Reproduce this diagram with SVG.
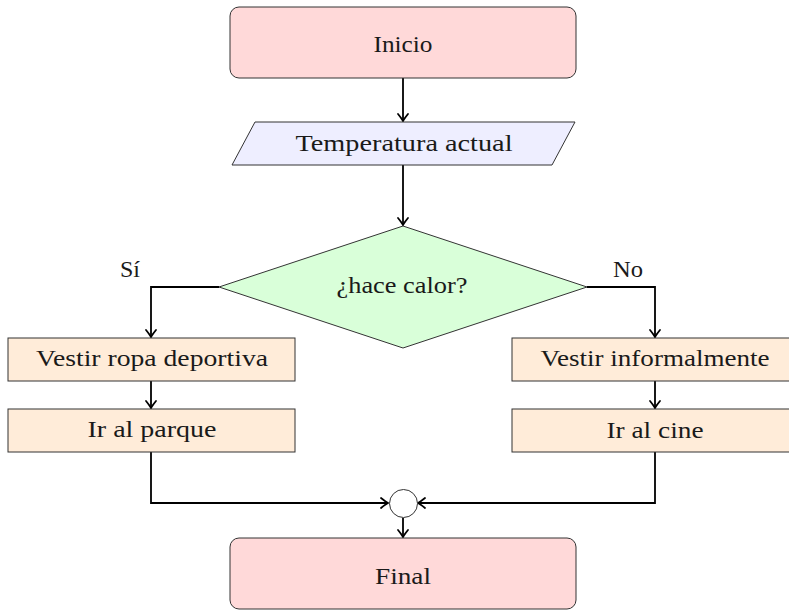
<svg xmlns="http://www.w3.org/2000/svg" width="789" height="610" viewBox="0 0 789 610">
<style>
text{font-family:"Liberation Serif","DejaVu Serif",serif;font-size:24px;fill:#1a1a1a;text-anchor:middle}
.term{fill:#ffd9d9;stroke:#333;stroke-width:1}
.io{fill:#eeeeff;stroke:#333;stroke-width:1}
.dec{fill:#d9ffd9;stroke:#333;stroke-width:1}
.proc{fill:#ffecd9;stroke:#333;stroke-width:1}
.join{fill:#fff;stroke:#333;stroke-width:1}
.conn path{fill:none;stroke:#000;stroke-width:1.8;marker-end:url(#tip)}
</style>
<defs>
<marker id="tip" markerUnits="userSpaceOnUse" markerWidth="14" markerHeight="14" viewBox="-10 -7 12 14" refX="0" refY="0" orient="auto">
<path d="M-7,-5 Q-2,-1 0,0 Q-2,1 -7,5" fill="none" stroke="#000" stroke-width="1.8" stroke-linecap="round"/>
</marker>
</defs>
<g class="conn">
<path d="M403,78 V121"/>
<path d="M403,165 V225"/>
<path d="M219,287 H151 V337"/>
<path d="M587,287 H655 V337"/>
<path d="M151,381 V408"/>
<path d="M655,381 V408"/>
<path d="M151,452 V503 H388"/>
<path d="M655,452 V503 H418"/>
<path d="M403,518 V537"/>
</g>
<g id="inicio"><rect class="term" x="230" y="7" width="346" height="71" rx="9"/><text x="403" y="52" textLength="59" lengthAdjust="spacingAndGlyphs">Inicio</text></g>
<g id="temperatura"><polygon class="io" points="255,122 575,122 552,165 232,165"/><text x="404" y="151" textLength="217" lengthAdjust="spacingAndGlyphs">Temperatura actual</text></g>
<g id="decision"><polygon class="dec" points="403,226 587,287 403,348 219,287"/><text x="402" y="293" textLength="131" lengthAdjust="spacingAndGlyphs">¿hace calor?</text></g>
<text x="130" y="277" textLength="20" lengthAdjust="spacingAndGlyphs">Sí</text>
<text x="628" y="277" textLength="30" lengthAdjust="spacingAndGlyphs">No</text>
<g id="ropa"><rect class="proc" x="8" y="338" width="287" height="43"/><text x="152" y="366" textLength="232" lengthAdjust="spacingAndGlyphs">Vestir ropa deportiva</text></g>
<g id="parque"><rect class="proc" x="8" y="409" width="287" height="43"/><text x="152" y="437" textLength="129" lengthAdjust="spacingAndGlyphs">Ir al parque</text></g>
<g id="informal"><rect class="proc" x="512" y="338" width="287" height="43"/><text x="655" y="366" textLength="229" lengthAdjust="spacingAndGlyphs">Vestir informalmente</text></g>
<g id="cine"><rect class="proc" x="512" y="409" width="287" height="43"/><text x="655" y="438" textLength="97" lengthAdjust="spacingAndGlyphs">Ir al cine</text></g>
<g id="union"><circle class="join" cx="403.5" cy="503.5" r="14"/></g>
<g id="final"><rect class="term" x="230" y="538" width="346" height="71" rx="9"/><text x="403" y="584" textLength="56" lengthAdjust="spacingAndGlyphs">Final</text></g>
</svg>
